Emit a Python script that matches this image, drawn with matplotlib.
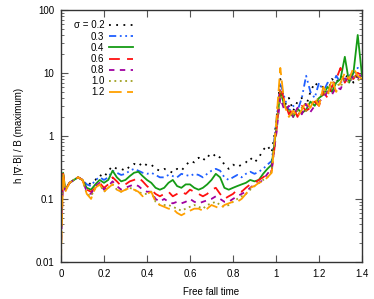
import matplotlib
matplotlib.use("Agg")
import matplotlib.pyplot as plt
from matplotlib.ticker import LogLocator, NullFormatter, FixedLocator

plt.rcParams['font.family'] = ['Liberation Sans', 'DejaVu Sans']

# time axis (free fall times)
t = [0.0, 0.01, 0.02, 0.04, 0.06, 0.08, 0.10, 0.12, 0.14, 0.16, 0.18,
     0.20, 0.22, 0.24, 0.26, 0.28, 0.30, 0.32, 0.34, 0.36, 0.38,
     0.40, 0.42, 0.44, 0.46, 0.48, 0.50, 0.52, 0.54, 0.56, 0.58,
     0.60, 0.62, 0.64, 0.66, 0.68, 0.70, 0.72, 0.74, 0.76, 0.78,
     0.80, 0.82, 0.84, 0.86, 0.88, 0.90, 0.92, 0.94, 0.96, 0.98,
     1.00, 1.02, 1.04, 1.06, 1.08, 1.10, 1.12, 1.14, 1.16, 1.18,
     1.20, 1.22, 1.24, 1.26, 1.28, 1.30, 1.32, 1.34, 1.36, 1.38, 1.40]

s02 = [0.06, 0.24, 0.14, 0.18, 0.20, 0.22, 0.20, 0.16, 0.18, 0.20, 0.24,
       0.22, 0.28, 0.33, 0.30, 0.30, 0.28, 0.33, 0.36, 0.33, 0.38,
       0.34, 0.35, 0.30, 0.28, 0.30, 0.28, 0.26, 0.30, 0.28, 0.34,
       0.40, 0.38, 0.45, 0.40, 0.50, 0.45, 0.52, 0.45, 0.35, 0.30,
       0.35, 0.32, 0.35, 0.38, 0.45, 0.38, 0.45, 0.60, 0.70, 0.55,
       1.5, 8.0, 3.0, 4.0, 2.5, 3.5, 4.0, 3.0, 5.0, 7.0,
       6.0, 6.0, 5.0, 8.0, 7.0, 9.0, 8.0, 10.0, 7.0, 9.0, 8.0]
s03 = [0.05, 0.25, 0.14, 0.18, 0.20, 0.22, 0.20, 0.17, 0.16, 0.20, 0.22,
       0.20, 0.22, 0.28, 0.26, 0.24, 0.25, 0.28, 0.30, 0.28, 0.26,
       0.25, 0.26, 0.24, 0.22, 0.22, 0.24, 0.23, 0.22, 0.25, 0.24,
       0.23, 0.25, 0.24, 0.22, 0.25, 0.28, 0.30, 0.28, 0.22, 0.20,
       0.22, 0.24, 0.22, 0.25, 0.27, 0.25, 0.27, 0.30, 0.35, 0.40,
       1.5, 7.0, 4.0, 2.5, 3.0, 2.5, 4.0, 9.0, 5.0, 4.0,
       7.0, 5.0, 7.0, 6.0, 9.0, 7.0, 8.0, 9.0, 10.0, 12.0, 11.0]
s04 = [0.08, 0.26, 0.14, 0.18, 0.20, 0.22, 0.20, 0.15, 0.14, 0.17, 0.20,
       0.18, 0.20, 0.28, 0.22, 0.19, 0.20, 0.23, 0.26, 0.27, 0.23,
       0.20, 0.18, 0.15, 0.14, 0.15, 0.18, 0.20, 0.16, 0.15, 0.17,
       0.17, 0.15, 0.14, 0.15, 0.17, 0.20, 0.25, 0.22, 0.15, 0.14,
       0.15, 0.16, 0.17, 0.18, 0.20, 0.19, 0.20, 0.25, 0.30, 0.35,
       1.2, 5.0, 3.0, 2.5, 2.0, 2.7, 2.3, 2.6, 3.5, 3.0,
       4.0, 4.5, 6.0, 5.0, 7.0, 8.0, 18.0, 7.0, 10.0, 40.0, 9.0]
s06 = [0.03, 0.25, 0.14, 0.18, 0.20, 0.22, 0.20, 0.14, 0.13, 0.15, 0.18,
       0.15, 0.17, 0.22, 0.19, 0.16, 0.17, 0.19, 0.20, 0.22, 0.19,
       0.16, 0.14, 0.12, 0.11, 0.12, 0.13, 0.11, 0.12, 0.13, 0.12,
       0.14, 0.13, 0.12, 0.11, 0.12, 0.14, 0.15, 0.12, 0.10, 0.11,
       0.12, 0.14, 0.13, 0.15, 0.17, 0.18, 0.20, 0.22, 0.25, 0.28,
       1.0, 6.0, 3.5, 2.2, 2.8, 2.0, 3.0, 2.5, 2.8, 3.5,
       3.0, 5.0, 4.0, 6.0, 8.0, 12.0, 7.0, 9.0, 8.0, 10.0, 9.0]
s08 = [0.015, 0.24, 0.14, 0.18, 0.20, 0.22, 0.20, 0.13, 0.12, 0.16, 0.18,
       0.14, 0.16, 0.19, 0.16, 0.14, 0.15, 0.16, 0.17, 0.16, 0.14,
       0.13, 0.13, 0.10, 0.09, 0.10, 0.09, 0.085, 0.09, 0.085, 0.09,
       0.10, 0.09, 0.085, 0.09, 0.095, 0.10, 0.11, 0.10, 0.09, 0.09,
       0.10, 0.11, 0.12, 0.13, 0.15, 0.17, 0.18, 0.20, 0.25, 0.30,
       1.0, 4.0, 2.5, 3.0, 2.0, 2.8, 2.2, 3.2, 2.4, 3.0,
       3.5, 4.0, 5.0, 4.5, 6.0, 5.5, 8.0, 7.0, 9.0, 8.0, 10.0]
s10 = [0.02, 0.25, 0.14, 0.18, 0.20, 0.22, 0.20, 0.12, 0.11, 0.15, 0.17,
       0.13, 0.15, 0.17, 0.14, 0.13, 0.14, 0.15, 0.14, 0.13, 0.12,
       0.12, 0.13, 0.09, 0.08, 0.08, 0.08, 0.075, 0.07, 0.065, 0.07,
       0.075, 0.08, 0.075, 0.07, 0.08, 0.085, 0.09, 0.08, 0.075, 0.08,
       0.09, 0.10, 0.11, 0.12, 0.14, 0.16, 0.18, 0.20, 0.22, 0.27,
       1.2, 5.0, 3.0, 2.5, 2.2, 2.5, 2.8, 2.5, 3.0, 3.5,
       4.0, 5.0, 4.5, 6.0, 7.0, 6.0, 8.0, 7.0, 9.0, 8.0, 7.0]
s12 = [0.01, 0.26, 0.13, 0.18, 0.20, 0.22, 0.20, 0.12, 0.10, 0.15, 0.17,
       0.13, 0.15, 0.17, 0.14, 0.13, 0.14, 0.15, 0.14, 0.13, 0.11,
       0.12, 0.13, 0.09, 0.08, 0.075, 0.07, 0.07, 0.06, 0.055, 0.06,
       0.065, 0.07, 0.07, 0.065, 0.07, 0.08, 0.075, 0.07, 0.08, 0.085,
       0.09, 0.09, 0.10, 0.12, 0.15, 0.16, 0.18, 0.19, 0.22, 0.26,
       1.5, 12.0, 3.0, 2.0, 2.5, 2.0, 2.6, 3.5, 2.8, 4.0,
       3.0, 6.0, 4.5, 8.0, 5.0, 7.0, 10.0, 8.0, 12.0, 9.0, 8.0]

labels = ['σ = 0.2', '0.3', '0.4', '0.6', '0.8', '1.0', '1.2']
series = [s02, s03, s04, s06, s08, s10, s12]
colors = ['black', '#1f5fff', '#159b15', '#ff1010', '#a000a0', '#a0a020', '#ffa000']
styles = [(0, (1, 3)), (0, (4, 2, 1, 2, 1, 2)), '-', (0, (6, 4)),
          (0, (3, 3)), (0, (1, 2)), (0, (7, 3))]

fig = plt.figure(figsize=(3.74, 2.99), dpi=100)
ax = fig.add_axes([0.163, 0.124, 0.805, 0.843])

for y, lab, c, ls in zip(series, labels, colors, styles):
    ax.plot(t, y, color=c, linestyle=ls, linewidth=1.3, label=lab)

ax.set_yscale('log')
ax.set_xlim(0, 1.4)
ax.set_ylim(0.01, 100)
ax.set_xticks([0, 0.2, 0.4, 0.6, 0.8, 1, 1.2, 1.4])
ax.set_xticklabels(['0', '0.2', '0.4', '0.6', '0.8', '1', '1.2', '1.4'])
ax.yaxis.set_major_locator(FixedLocator([0.01, 0.1, 1, 10, 100]))
ax.set_yticklabels(['0.01', '0.1', '1', '10', '100'])
ax.yaxis.set_minor_locator(LogLocator(base=10, subs=range(2, 10), numticks=20))
ax.yaxis.set_minor_formatter(NullFormatter())
ax.tick_params(which='both', direction='in', top=True, right=True,
               labelsize=7, color='#555555')
ax.tick_params(which='major', length=5, pad=5)
ax.tick_params(which='minor', length=2.5)
for sp in ax.spines.values():
    sp.set_color('#333333')
    sp.set_linewidth(1.0)

ax.set_xlabel('Free fall time', fontsize=7, labelpad=6)
ax.set_ylabel('h |∇·B| / B (maximum)', fontsize=7, labelpad=8)

ax.legend(loc='upper left', frameon=False, fontsize=7, markerfirst=False,
          handlelength=2.4, handletextpad=0.5, labelspacing=0.12,
          borderaxespad=0.3, bbox_to_anchor=(0.02, 0.985))

fig.savefig('out.png', dpi=100)
